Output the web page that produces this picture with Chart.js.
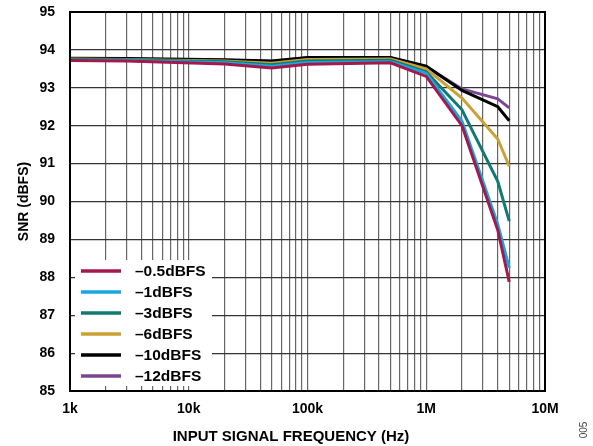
<!DOCTYPE html>
<html>
<head>
<meta charset="utf-8">
<script src="https://cdn.jsdelivr.net/npm/chart.js@4/dist/chart.umd.min.js"></script>
<style>
  html,body{margin:0;padding:0;background:#fff}
  #wrap{width:593px;height:446px;position:relative}
</style>
</head>
<body>
<div id="wrap"><canvas id="c"></canvas></div>
<script>
// ===================== DATOS =====================
const freqs=[1000,3000,20000,50000,100000,500000,1000000,2000000,4000000,5000000];
const snr05=[93.72,93.71,93.63,93.52,93.62,93.66,93.30,92.00,89.25,87.88];
const snr1 =[93.73,93.72,93.66,93.57,93.67,93.69,93.38,92.12,89.40,88.25];
const snr3 =[93.75,93.74,93.69,93.61,93.71,93.73,93.42,92.42,90.53,89.48];
const snr6 =[93.76,93.75,93.71,93.65,93.75,93.76,93.50,92.73,91.65,90.93];
const snr10=[93.78,93.77,93.74,93.71,93.80,93.80,93.57,92.93,92.50,92.13];
const snr12=[93.77,93.76,93.73,93.70,93.79,93.79,93.56,92.97,92.71,92.47];
const labels=['\u20130.5dBFS','\u20131dBFS','\u20133dBFS','\u20136dBFS','\u201310dBFS','\u201312dBFS'];
const colors=['#a3194b','#1ba6e0','#117a72','#c9a134','#000000','#7b4795'];
const xTickLabels={1000:'1k',10000:'10k',100000:'100k',1000000:'1M',10000000:'10M'};
const yTicks=[85,86,87,88,89,90,91,92,93,94,95];

const FONT='"Liberation Sans", Arial, sans-serif';
const series=[snr05,snr1,snr3,snr6,snr10,snr12];

// leyenda dentro del área, abajo a la izquierda
const legendBox={
  id:'legendBox',
  afterDatasetsDraw(chart){
    const ctx=chart.ctx, a=chart.chartArea;
    const x0=a.left+5, y0=a.bottom-131, w=137, h=126;
    ctx.save();
    ctx.fillStyle='#fff';
    ctx.fillRect(x0,y0,w,h);
    ctx.font='bold 15.5px '+FONT;
    ctx.textBaseline='middle';
    chart.data.datasets.forEach((ds,i)=>{
      const y=a.bottom-120+i*21;
      ctx.strokeStyle=ds.borderColor;ctx.lineWidth=3.5;
      ctx.beginPath();ctx.moveTo(a.left+11,y);ctx.lineTo(a.left+51,y);ctx.stroke();
      ctx.fillStyle='#000';
      ctx.fillText(ds.label,a.left+65,y+1);
    });
    ctx.restore();
  }
};

// marco, título del eje x y número de figura
const extras={
  id:'extras',
  afterDraw(chart){
    const ctx=chart.ctx, a=chart.chartArea;
    ctx.save();
    ctx.strokeStyle='#000';ctx.lineWidth=2;
    ctx.strokeRect(a.left,a.top,a.right-a.left,a.bottom-a.top);
    ctx.fillStyle='#000';
    ctx.font='bold 15px '+FONT;
    ctx.textAlign='center';ctx.textBaseline='middle';
    ctx.fillText('INPUT SIGNAL FREQUENCY (Hz)',291,437);
    ctx.translate(584,430);ctx.rotate(-Math.PI/2);
    ctx.font='10px '+FONT;ctx.fillStyle='#444';
    ctx.fillText('005',0,0);
    ctx.restore();
  }
};

const ch=new Chart(document.getElementById('c'),{
  type:'line',
  data:{datasets:series.map((s,i)=>({
    label:labels[i],
    data:freqs.map((f,j)=>({x:f,y:s[j]})),
    borderColor:colors[i],backgroundColor:colors[i],
    borderWidth:3,pointRadius:0,tension:0,fill:false
  }))},
  options:{
    responsive:true,maintainAspectRatio:false,animation:false,
    layout:{padding:{left:0,right:48,top:12,bottom:0}},
    plugins:{legend:{display:false},tooltip:{enabled:false}},
    scales:{
      x:{type:'logarithmic',min:1000,max:10000000,
        afterBuildTicks(sc){
          const t=[];
          for(let e=3;e<7;e++) for(let m=1;m<10;m++) t.push({value:m*Math.pow(10,e)});
          t.push({value:10000000});
          sc.ticks=t;
        },
        afterFit(sc){sc.height=55;sc.paddingLeft=0;sc.paddingRight=0;},
        ticks:{autoSkip:false,maxRotation:0,padding:10,color:'#000',
          font:{family:FONT,size:14,weight:'bold'},
          callback:v=>xTickLabels[v]||''},
        grid:{drawTicks:false,color:'rgba(0,0,0,0.6)',lineWidth:1.2},
        border:{display:false}
      },
      y:{min:85,max:95,
        afterBuildTicks(sc){sc.ticks=yTicks.map(v=>({value:v}));},
        afterFit(sc){sc.width=70;sc.paddingTop=0;sc.paddingBottom=0;},
        ticks:{padding:15,color:'#000',font:{family:FONT,size:14,weight:'bold'}},
        grid:{drawTicks:false,color:'#333',lineWidth:1.2},
        border:{display:false},
        title:{display:true,text:'SNR (dBFS)',color:'#000',padding:{top:16,bottom:0},
          font:{family:FONT,size:14,weight:'bold'}}
      }
    }
  },
  plugins:[legendBox,extras]
});
</script>
</body>
</html>
